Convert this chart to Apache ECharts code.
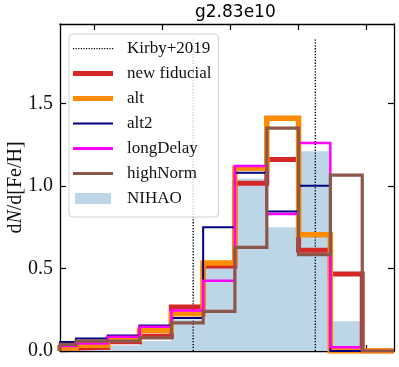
<!DOCTYPE html>
<html>
<head>
<meta charset="utf-8">
<script src="https://cdn.jsdelivr.net/npm/echarts@6/dist/echarts.min.js"></script>
<style>
    html, body { margin: 0; padding: 0; background: #fff; }
    #main { width: 399px; height: 367px; }
</style>
</head>
<body>
<div id="main"></div>
<script>
// histogram bin edges in [Fe/H] (first bin starts at the left edge of the plot)
var binEdges = [-3.75, -3.633, -3.4, -3.167, -2.933, -2.7, -2.467, -2.233, -2.0, -1.767, -1.533, -1.3];
// dN/d[Fe/H] per bin
var newFiducial = [0.018, 0.022, 0.056, 0.09, 0.267, 0.515, 1.015, 1.16, 0.61, 0.466, 0];
var alt = [0.02, 0.035, 0.07, 0.124, 0.226, 0.533, 1.107, 1.41, 0.704, 0, 0];
var alt2 = [0.055, 0.075, 0.094, 0.154, 0.2, 0.75, 1.08, 0.845, 1.0, 0, 0];
var longDelay = [0.03, 0.045, 0.086, 0.147, 0.245, 0.426, 1.12, 0.83, 1.26, 0.022, 0];
var highNorm = [0.04, 0.06, 0.06, 0.08, 0.17, 0.24, 0.627, 1.35, 0.583, 1.065, 0];
var nihao = [0.005, 0.01, 0.035, 0.06, 0.19, 0.503, 1.045, 0.75, 1.21, 0.18, 0];
// Kirby+2019 markers
var kirbyFeH = [-2.773, -1.877];
var kirbyTop = 1.89;
var xTicks = [-3.5, -3.0, -2.5, -2.0, -1.5];
var yTicks = [0, 0.5, 1.0, 1.5];

var serif = 'Liberation Serif';

// outline of a step histogram, closed down to zero at both ends
function stepData(vals) {
    var d = [[binEdges[0], 0]];
    for (var i = 0; i < vals.length; i++) {
        d.push([binEdges[i], vals[i]]);
        d.push([binEdges[i + 1], vals[i]]);
    }
    d.push([binEdges[vals.length], 0]);
    return d;
}

// legend handles: fixed 49x17 box so every icon is drawn 1:1
var box = 'M0,0L0,0M49,17L49,17';
function bar(h) {
    return 'path://' + box + 'M0,' + (8.5 - h / 2) + 'h40v' + h + 'h-40z';
}
function dots() {
    var p = 'path://' + box;
    for (var x = 0; x < 40; x += 2.6) {
        p += 'M' + x.toFixed(1) + ',8h1.2v1.3h-1.2z';
    }
    return p;
}

var kirbyData = [];
kirbyFeH.forEach(function (x) {
    kirbyData.push([x, 0], [x, kirbyTop], [x, '-']);
});

function histLine(name, vals, color, width) {
    return {
        name: name,
        type: 'line',
        data: stepData(vals),
        symbol: 'none',
        z: 3,
        color: color,
        lineStyle: { color: color, width: width, join: 'miter' }
    };
}

function frameAxis(extra) {
    var a = {
        type: 'value',
        axisLine: { show: true, onZero: false, lineStyle: { color: '#000', width: 1.3 } },
        axisTick: { inside: true, length: 6, lineStyle: { color: '#000', width: 1.2 } },
        axisLabel: { show: false },
        splitLine: { show: false }
    };
    for (var k in extra) a[k] = extra[k];
    return a;
}

var chart = echarts.init(document.getElementById('main'));
var option = {
    animation: false,
    backgroundColor: '#fff',
    graphic: [{
        type: 'text',
        left: 195,
        top: 4,
        style: {
            text: 'g2.83e10',
            fontSize: 17,
            fontFamily: 'DejaVu Sans',
            fill: '#000'
        }
    }],
    grid: { left: 60, right: 5, top: 24, bottom: 16, containLabel: false, outerBoundsMode: 'none' },
    legend: {
        orient: 'vertical',
        left: 69,
        top: 34,
        padding: [6, 7, 10, 4],
        itemGap: 8,
        itemWidth: 49,
        itemHeight: 17,
        selectedMode: false,
        backgroundColor: 'rgba(255,255,255,0.8)',
        borderColor: '#d0d0d0',
        borderWidth: 1,
        borderRadius: 4,
        itemStyle: { borderWidth: 0 },
        textStyle: { fontFamily: serif, fontSize: 17, color: '#111' },
        data: [
            { name: 'Kirby+2019', icon: dots() },
            { name: 'new fiducial', icon: bar(5) },
            { name: 'alt', icon: bar(5) },
            { name: 'alt2', icon: bar(2) },
            { name: 'longDelay', icon: bar(3) },
            { name: 'highNorm', icon: bar(3) },
            { name: 'NIHAO', icon: 'path://' + box + 'M2,3h36v11h-36z' }
        ]
    },
    xAxis: [
        frameAxis({ min: -3.75, max: -1.3, axisTick: { inside: true, length: 6, customValues: xTicks, lineStyle: { color: '#000', width: 1.2 } } }),
        frameAxis({ position: 'top', min: -3.75, max: -1.3, axisTick: { inside: true, length: 6, customValues: xTicks, lineStyle: { color: '#000', width: 1.2 } } })
    ],
    yAxis: [
        frameAxis({
            min: 0,
            max: 1.98,
            name: '{r|d}{i|N}{r|/d[Fe/H]}',
            nameLocation: 'middle',
            nameGap: 34,
            nameMoveOverlap: false,
            nameTextStyle: {
                rich: {
                    r: { fontFamily: serif, fontSize: 20, color: '#111' },
                    i: { fontFamily: serif, fontSize: 20, fontStyle: 'italic', color: '#111' }
                }
            },
            axisTick: { inside: true, length: 6, customValues: yTicks, lineStyle: { color: '#000', width: 1.2 } },
            axisLabel: {
                customValues: yTicks,
                margin: 7,
                fontFamily: serif,
                fontSize: 20,
                color: '#111',
                formatter: function (v) { return v.toFixed(1); }
            }
        }),
        frameAxis({ position: 'right', min: 0, max: 1.98, axisTick: { inside: true, length: 6, customValues: yTicks, lineStyle: { color: '#000', width: 1.2 } } })
    ],
    series: [
        {
            name: 'NIHAO',
            type: 'line',
            data: stepData(nihao),
            symbol: 'none',
            z: 1,
            color: '#bcd6e8',
            lineStyle: { width: 0 },
            areaStyle: { color: '#bcd6e8', opacity: 1 }
        },
        {
            name: 'Kirby+2019',
            type: 'line',
            data: kirbyData,
            symbol: 'none',
            z: 2,
            color: '#000',
            lineStyle: { color: '#000', width: 1.4, type: [1.3, 1.6] }
        },
        histLine('new fiducial', newFiducial, '#d62728', 5),
        histLine('alt', alt, '#ff8c00', 5.5),
        histLine('alt2', alt2, '#000080', 2),
        histLine('longDelay', longDelay, '#ff00ff', 2.5),
        histLine('highNorm', highNorm, '#8c564b', 3.2)
    ]
};
chart.setOption(option);
</script>
</body>
</html>
